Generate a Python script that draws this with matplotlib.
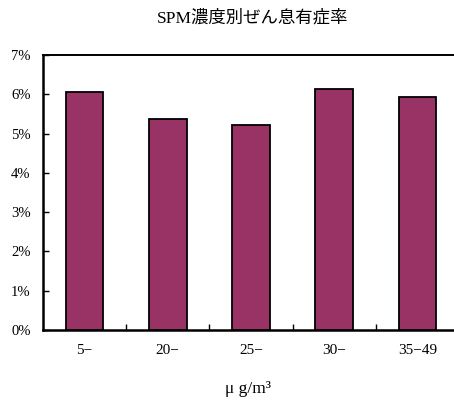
import matplotlib.pyplot as plt
import numpy as np
from matplotlib.ticker import FuncFormatter

categories = ['5−', '20−', '25−', '30−', '35−49']
rates = [6.05, 5.37, 5.21, 6.13, 5.94]
yticks = [0, 1, 2, 3, 4, 5, 6, 7]

plt.rcParams['font.family'] = ['Liberation Serif', 'Noto Sans CJK JP', 'DejaVu Sans']

fig = plt.figure(figsize=(4.54, 4.01), dpi=100)
ax = fig.add_axes([43/454, 71/401, 416/454, 275/401])

x = np.arange(len(categories))
ax.bar(x, rates, width=0.45, color='#993366', edgecolor='black', linewidth=1.3, zorder=3)

ax.set_xlim(-0.5, len(categories) - 0.5)
ax.set_ylim(0, 7)
ax.set_yticks(yticks)
ax.yaxis.set_major_formatter(FuncFormatter(lambda v, p: '%d%%' % v))
ax.set_xticks(x)
ax.set_xticklabels(categories)
# boundary ticks between categories
ax.set_xticks(x[:-1] + 0.5, minor=True)

ax.tick_params(axis='y', direction='in', length=4, width=1, pad=9, labelsize=10.5)
ax.tick_params(axis='x', which='major', length=0, pad=10, labelsize=11)
ax.tick_params(axis='x', which='minor', direction='in', length=4, width=1)

for s in ['left', 'bottom']:
    ax.spines[s].set_linewidth(1.8)
ax.spines['top'].set_linewidth(1.4)
ax.spines['right'].set_visible(False)

fig.text(253/454, 1 - 18/401, 'SPM濃度別ぜん息有症率', ha='center', va='center',
         fontsize=12.5)
fig.text(248/454, 1 - 389/401, 'μ g/m³', ha='center', va='center', fontsize=12.5)

fig.savefig('out.png', dpi=100)
